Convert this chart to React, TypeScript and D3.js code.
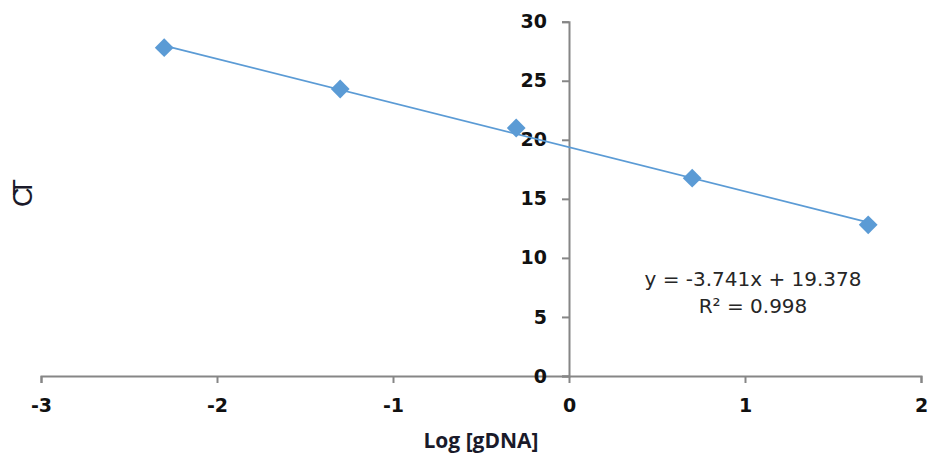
import React, { useEffect, useRef } from 'react';
import * as d3 from 'd3';

// data
const logDNA = [-2.3, -1.3, -0.3, 0.7, 1.7];
const ctValues = [27.8, 24.3, 21.0, 16.75, 12.8];
const xTicks = [-3, -2, -1, 0, 1, 2];
const yTicks = [0, 5, 10, 15, 20, 25, 30];
const slope = -3.741;
const intercept = 19.378;
const eqLines = ['y = -3.741x + 19.378', 'R² = 0.998'];

const width = 930;
const height = 457;
const blue = '#5B9BD5';
const axisGrey = '#868686';

export default function App() {
  const ref = useRef<SVGSVGElement>(null);

  useEffect(() => {
    const svg = d3.select(ref.current);
    svg.selectAll('*').remove();

    const xScale = d3.scaleLinear().domain([-3, 2]).range([41, 921]);
    const yScale = d3.scaleLinear().domain([0, 30]).range([376, 21.7]);

    // plain hyphen for negatives, like the original
    const fmt = (d: d3.NumberValue) => String(d);

    // x axis sits on y = 0
    const gx = svg.append('g')
      .attr('transform', `translate(0, ${yScale(0)})`)
      .call(d3.axisBottom(xScale).tickValues(xTicks).tickSize(7).tickPadding(16).tickFormat(fmt));

    // y axis sits on x = 0
    const gy = svg.append('g')
      .attr('transform', `translate(${xScale(0)}, 0)`)
      .call(d3.axisLeft(yScale).tickValues(yTicks).tickSize(7).tickPadding(15).tickFormat(fmt));

    [gx, gy].forEach(g => {
      g.select('.domain').attr('stroke', axisGrey).attr('stroke-width', 2);
      g.selectAll('.tick line').attr('stroke', axisGrey).attr('stroke-width', 2);
      g.selectAll('.tick text')
        .attr('fill', '#111')
        .attr('font-family', 'DejaVu Sans')
        .attr('font-weight', 'bold')
        .attr('font-size', 19);
    });

    // trendline from the fitted equation
    const xMin = d3.min(logDNA) as number;
    const xMax = d3.max(logDNA) as number;
    const trend = d3.line<number>()
      .x(d => xScale(d))
      .y(d => yScale(slope * d + intercept));
    svg.append('path')
      .datum([xMin, xMax])
      .attr('d', trend)
      .attr('fill', 'none')
      .attr('stroke', blue)
      .attr('stroke-width', 1.8);

    // diamond markers
    const diamond = d3.symbol(d3.symbolDiamond2, 225);
    svg.selectAll('path.pt')
      .data(logDNA)
      .enter()
      .append('path')
        .attr('class', 'pt')
        .attr('d', diamond)
        .attr('transform', (d, i) => `translate(${xScale(d)}, ${yScale(ctValues[i])})`)
        .attr('fill', blue);

    // equation label
    svg.append('text')
      .attr('x', 753)
      .attr('y', 286)
      .attr('text-anchor', 'middle')
      .attr('font-family', 'DejaVu Sans')
      .attr('font-size', 20)
      .attr('fill', '#262626')
      .selectAll('tspan')
      .data(eqLines)
      .enter()
      .append('tspan')
        .attr('x', 753)
        .attr('dy', (d, i) => (i === 0 ? 0 : 26.5))
        .text(d => d);

    // axis titles
    svg.append('text')
      .attr('x', 481)
      .attr('y', 448)
      .attr('text-anchor', 'middle')
      .attr('font-family', 'Open Sans')
      .attr('font-weight', 700)
      .attr('font-size', 21)
      .attr('fill', '#1a1a2a')
      .text('Log [gDNA]');

    svg.append('text')
      .attr('transform', 'translate(32, 197) rotate(-90)')
      .attr('text-anchor', 'middle')
      .attr('font-family', 'Liberation Sans')
      .attr('font-size', 27)
      .attr('letter-spacing', -8)
      .attr('fill', '#1a1a2a')
      .text('CT');
  }, []);

  return (
    <svg ref={ref} width={width} height={height}
      style={{ position: 'absolute', left: 0, top: 0, background: '#fff' }} />
  );
}
